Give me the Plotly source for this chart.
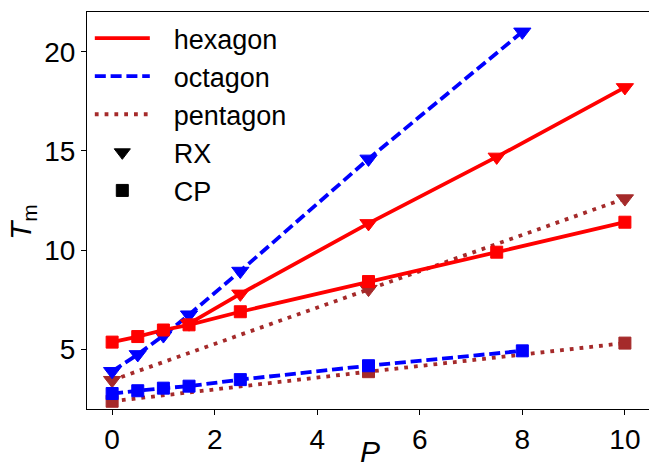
import plotly.graph_objects as go

# ---- data ----
hex_rx_P = [1.5, 2.5, 5, 7.5, 10]
hex_rx_T = [6.3, 7.8, 11.35, 14.7, 18.2]
hex_cp_P = [0, 0.5, 1, 1.5, 2.5, 5, 7.5, 10]
hex_cp_T = [5.37, 5.65, 5.98, 6.24, 6.9, 8.42, 9.9, 11.41]

oct_rx_P = [0, 0.5, 1, 1.5, 2.5, 5, 8]
oct_rx_T = [3.9, 4.75, 5.7, 6.75, 8.95, 14.6, 21.0]
oct_cp_P = [0, 0.5, 1, 1.5, 2.5, 5, 8]
oct_cp_T = [2.78, 2.92, 3.05, 3.15, 3.48, 4.18, 4.93]

pent_rx_P = [0, 5, 10]
pent_rx_T = [3.45, 8.04, 12.6]
pent_cp_P = [0, 5, 10]
pent_cp_T = [2.39, 3.88, 5.32]

x_ticks = [0, 2, 4, 6, 8, 10]
y_ticks = [5, 10, 15, 20]

RED = "#ff0000"
BLUE = "#0000ff"
BROWN = "#a52a2a"
FONT = "Liberation Sans, Arial, sans-serif"
LW = 3.8
TRI = 15
SQ = 12

fig = go.Figure()

def add(P, T, color, dash, symbol, size):
    fig.add_trace(go.Scatter(
        x=P, y=T, mode="lines+markers",
        line=dict(color=color, width=LW, dash=dash),
        marker=dict(symbol=symbol, size=size, color=color,
                    line=dict(color=color, width=1)),
        showlegend=False, hoverinfo="skip"))

DASH = "11px,4.8px"
DOT = "3.8px,6px"

add(pent_rx_P, pent_rx_T, BROWN, DOT, "triangle-down", TRI)
add(pent_cp_P, pent_cp_T, BROWN, DOT, "square", SQ)
add(oct_rx_P, oct_rx_T, BLUE, DASH, "triangle-down", TRI)
add(oct_cp_P, oct_cp_T, BLUE, DASH, "square", SQ)
add(hex_rx_P, hex_rx_T, RED, "solid", "triangle-down", TRI)
add(hex_cp_P, hex_cp_T, RED, "solid", "square", SQ)

PAD = "\u2002\u2009"
# legend entries
for name, color, dash in [("hexagon", RED, "solid"), ("octagon", BLUE, DASH), ("pentagon", BROWN, DOT)]:
    fig.add_trace(go.Scatter(x=[None], y=[None], mode="lines", name=PAD + name,
                             line=dict(color=color, width=LW, dash=dash)))
for name, symbol, size in [("RX", "triangle-down", 14), ("CP", "square", 12)]:
    fig.add_trace(go.Scatter(x=[None], y=[None], mode="markers", name=PAD + name,
                             marker=dict(symbol=symbol, size=size, color="black",
                                         line=dict(color="black", width=1))))

T_MARGIN, B_MARGIN, L_MARGIN = 12, 62, 87
H = 471
PLOT_H = H - T_MARGIN - B_MARGIN
PLOT_W = 649 - L_MARGIN

fig.update_layout(
    width=649, height=H,
    margin=dict(l=L_MARGIN, r=0, t=T_MARGIN, b=B_MARGIN, autoexpand=False),
    paper_bgcolor="white", plot_bgcolor="white",
    font=dict(family=FONT, size=28, color="black"),
    showlegend=True,
    legend=dict(x=0.005, y=0.995, xanchor="left", yanchor="top",
                bgcolor="rgba(0,0,0,0)", font=dict(size=27, family=FONT),
                itemwidth=55, tracegroupgap=0),
    annotations=[
        dict(text="<i>P</i>", xref="paper", yref="paper",
             x=(370 - L_MARGIN) / PLOT_W, y=-(451 - (H - B_MARGIN)) / PLOT_H,
             xanchor="center", yanchor="middle", showarrow=False,
             font=dict(size=30, family=FONT)),
        dict(text="<i>T</i><sub>m</sub>", xref="paper", yref="paper",
             x=(22 - L_MARGIN) / PLOT_W, y=((H - B_MARGIN) - 222) / PLOT_H,
             xanchor="center", yanchor="middle", showarrow=False, textangle=-90,
             font=dict(size=30, family=FONT)),
    ],
)
fig.update_xaxes(
    range=[-0.49, 10.47], tickvals=x_ticks, ticks="outside", ticklen=5,
    tickwidth=1.1, tickcolor="black", showline=True, linecolor="black",
    linewidth=1.1, mirror=True, showgrid=False, zeroline=False, automargin=False,
    tickfont=dict(size=28, family=FONT),
)
fig.update_yaxes(
    range=[2.0, 22.0], tickvals=y_ticks, ticks="outside", ticklen=5,
    tickwidth=1.1, tickcolor="black", showline=True, linecolor="black",
    linewidth=1.1, mirror=False, showgrid=False, zeroline=False, automargin=False,
    tickfont=dict(size=28, family=FONT),
)

fig.write_html("out.html")
